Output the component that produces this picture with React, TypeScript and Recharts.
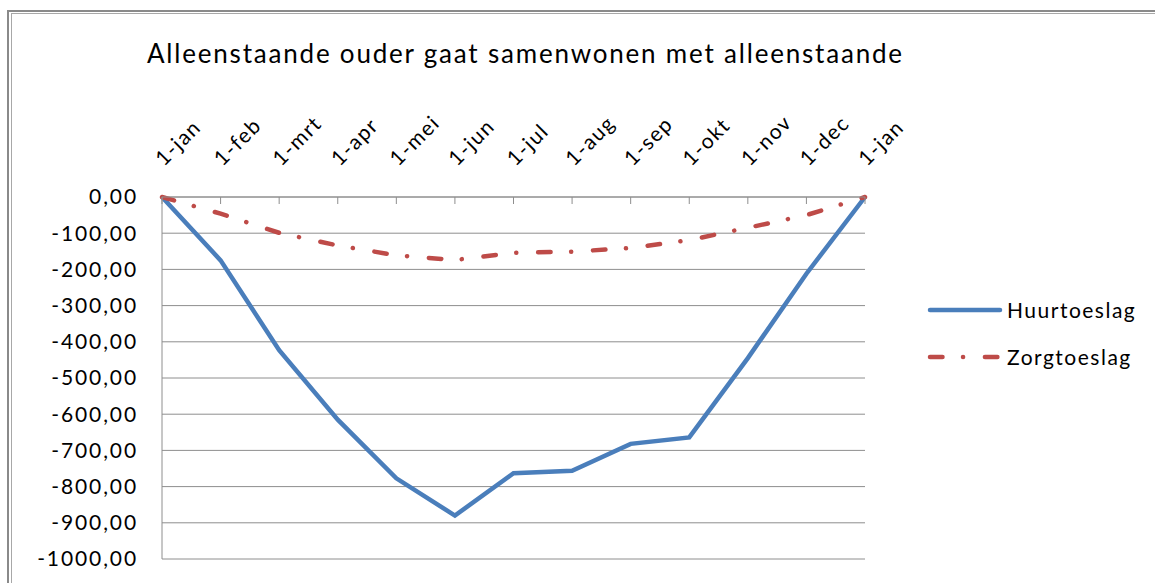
import React from "react";
import { LineChart, Line, XAxis, YAxis, CartesianGrid, Legend } from "recharts";

const months = ["1-jan", "1-feb", "1-mrt", "1-apr", "1-mei", "1-jun", "1-jul", "1-aug", "1-sep", "1-okt", "1-nov", "1-dec", "1-jan"];
const huurtoeslag = [0, -175, -423, -615, -777, -880, -763, -756, -682, -664, -445, -212, 0];
const zorgtoeslag = [0, -46, -99, -134, -161, -174, -154, -151, -141, -119, -85, -50, 0];
const yTicks = [0, -100, -200, -300, -400, -500, -600, -700, -800, -900, -1000];

const data = months.map((m, i) => ({
  month: m,
  Huurtoeslag: huurtoeslag[i],
  Zorgtoeslag: zorgtoeslag[i],
}));

const FONT = "Lato, 'Open Sans', sans-serif";
const BLUE = "#4a7ebb";
const RED = "#be4b48";
const GRID = "#8e8e8e";

const fmt = (v: number) => v.toFixed(2).replace(".", ",");

function MonthTick(props: any) {
  const { x, y, payload } = props;
  return (
    <g>
      <line x1={x} y1={y} x2={x} y2={y + 7} stroke={GRID} strokeWidth={1} />
      <text
        x={x + 2}
        y={y - 30}
        transform={`rotate(-45 ${x + 2} ${y - 30})`}
        textAnchor="start"
        fontFamily={FONT}
        fontSize={21}
        letterSpacing={1.4}
        fill="#000"
      >
        {payload.value}
      </text>
    </g>
  );
}

function LegendBox() {
  const items = [
    { name: "Huurtoeslag", color: BLUE, dash: undefined },
    { name: "Zorgtoeslag", color: RED, dash: "12.5 20.5 0.1 21.8" },
  ];
  return (
    <div>
      {items.map((it) => (
        <div key={it.name} style={{ display: "flex", alignItems: "center", height: 47 }}>
          <svg width={80} height={10}>
            <line x1={3} y1={5} x2={73} y2={5} stroke={it.color} strokeWidth={4.5} strokeLinecap="round" strokeDasharray={it.dash} />
          </svg>
          <span style={{ fontFamily: FONT, fontSize: 21, letterSpacing: 1.5, color: "#000" }}>{it.name}</span>
        </div>
      ))}
    </div>
  );
}

export default function App() {
  return (
    <div style={{ position: "absolute", left: 0, top: 0, width: 1155, height: 583, background: "#fff", overflow: "hidden" }}>
      <div style={{ position: "absolute", left: 7, top: 10, width: 1200, height: 600, borderTop: "2px solid #8a8a8a", borderLeft: "2px solid #8a8a8a" }} />
      <div style={{ position: "absolute", left: 11, top: 13, width: 1200, height: 600, borderTop: "1px solid #a8a8a8", borderLeft: "1px solid #a8a8a8" }} />
      <div style={{ position: "absolute", left: 147, top: 37, fontFamily: FONT, fontSize: 26, letterSpacing: 1.8, color: "#000", whiteSpace: "nowrap" }}>
        Alleenstaande ouder gaat samenwonen met alleenstaande
      </div>
      <div style={{ position: "absolute", left: 0, top: 0 }}>
        <LineChart width={1155} height={583} data={data} margin={{ top: 0, right: 290, bottom: 24, left: 0 }}>
          <CartesianGrid horizontal vertical={false} stroke={GRID} strokeWidth={1} />
          <XAxis
            dataKey="month"
            orientation="top"
            height={197}
            interval={0}
            tickSize={0}
            tickMargin={0}
            tickLine={false}
            axisLine={{ stroke: GRID }}
            tick={<MonthTick />}
          />
          <YAxis
            type="number"
            domain={[-1000, 0]}
            ticks={yTicks}
            interval={0}
            width={162}
            tickFormatter={fmt}
            tickLine={false}
            tickSize={0}
            tickMargin={24}
            axisLine={{ stroke: GRID }}
            tick={{ fontFamily: FONT, fontSize: 21, fill: "#000", letterSpacing: 1.9 }}
          />
          <Legend
            layout="vertical"
            align="center"
            verticalAlign="middle"
            content={() => <LegendBox />}
            wrapperStyle={{ left: 927, top: 286, width: 228 }}
          />
          <Line type="linear" dataKey="Huurtoeslag" stroke={BLUE} strokeWidth={4.5} dot={false} isAnimationActive={false} />
          <Line
            type="linear"
            dataKey="Zorgtoeslag"
            stroke={RED}
            strokeWidth={4.5}
            strokeLinecap="round"
            strokeDasharray="12.5 20.5 0.1 21.8"
            dot={false}
            isAnimationActive={false}
          />
        </LineChart>
      </div>
    </div>
  );
}
